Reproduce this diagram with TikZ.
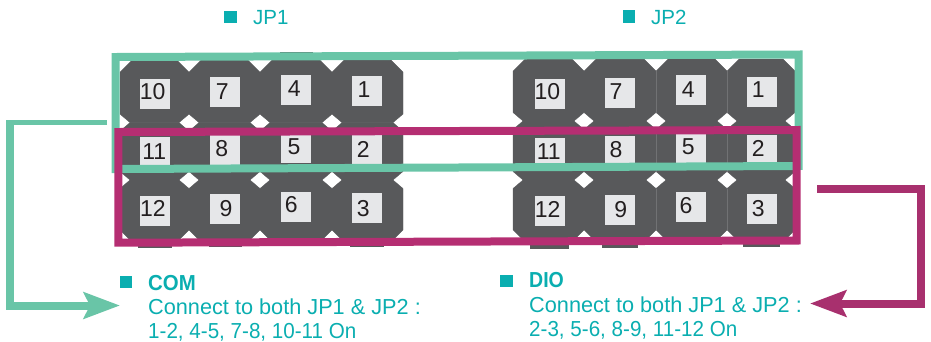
\documentclass[tikz,border=0pt]{standalone}
\usepackage{fontspec}
\usepackage{graphicx}
\setmainfont{Liberation Sans}
\usetikzlibrary{arrows.meta}
\definecolor{pindark}{HTML}{58595B}
\definecolor{pinlight}{HTML}{E6E7E9}
\definecolor{pintext}{HTML}{231F20}
\definecolor{grn}{HTML}{69C5A7}
\definecolor{mag}{HTML}{B52E72}
\definecolor{magdark}{HTML}{A8306E}
\definecolor{tealtxt}{HTML}{0AAEB0}
\tikzset{
  pinlabel/.style={fill=pinlight,minimum size=30pt,inner sep=0pt},
  pindigit/.style={inner sep=0pt,text=pintext,font=\fontsize{23}{23}\selectfont},
  bullet/.style={fill=tealtxt,minimum size=12.5pt,inner sep=0pt},
  caption/.style={text=tealtxt,anchor=base west,inner sep=0pt,font=\fontsize{21.7}{24}\selectfont},
  jplabel/.style={text=tealtxt,anchor=base west,inner sep=0pt,font=\fontsize{20.5}{24}\selectfont},
  frame/.style={line width=8pt,miter limit=10},
  elbow/.style={line width=8pt,-{Stealth[length=36pt,width=26pt,inset=6pt]}},
  pinbody/.style={fill=pindark,draw=pindark,line width=.3pt}
}
% x1 y1 x2 y2, then top chamfer (x,y) and bottom chamfer (x,y)
\newcommand{\octa}[8]{%
  \path[pinbody] (#1+#5,#2) -- (#3-#5,#2) -- (#3,#2+#6) -- (#3,#4-#8) -- (#3-#7,#4) -- (#1+#7,#4) -- (#1,#4-#8) -- (#1,#2+#6) -- cycle;}
\begin{document}
\begin{tikzpicture}[x=1pt,y=-1pt]
\useasboundingbox (0,0) rectangle (931,341);
% tabs
\fill[pindark] (280,52) rectangle (313,62);
\fill[pindark] (138,238) rectangle (172,248);
\fill[pindark] (209,238) rectangle (242,247);
\fill[pindark] (350,238) rectangle (384,246.5);
\fill[pindark] (530,238) rectangle (569,249);
\fill[pindark] (602,238) rectangle (638,248);
\fill[pindark] (674,238) rectangle (708,245);
\fill[pindark] (743,238) rectangle (780,247);
% left header body
\foreach \a/\b in {120/189,189/260,260/332,332/403}{
  \octa{\a}{60}{\b}{122.6}{12}{12}{10}{8.5}
  \octa{\a}{122.6}{\b}{180}{10}{8.5}{10}{8.5}
  \octa{\a}{180}{\b}{242}{10}{8.5}{12}{12}
}
% right header body
\foreach \a/\b in {513/584,584/656,656/727,727/795}{
  \octa{\a}{59}{\b}{121}{12}{12}{10}{8.5}
  \octa{\a}{121}{\b}{180}{10}{8.5}{10}{8.5}
  \octa{\a}{180}{\b}{242}{10}{8.5}{12}{12}
}
\draw[pindark!85!white,line width=.4pt] (656,71) -- (656,112.5) (656,129.5) -- (656,171.5) (656,188.5) -- (656,230)
  (727,71) -- (727,112.5) (727,129.5) -- (727,171.5) (727,188.5) -- (727,230);
% pin labels left
\foreach \n/\x/\y/\dx/\dy in {10/155/94/-2.3/-2.3,7/225/92/-2.7/-0.3,4/296/90/-1.7/-1.7,1/367/91/-3/-1,
  11/155/152/-0.7/-0.7,8/225/150/-3.3/-1.3,5/296/148/-2/-1.3,2/367/149/-3.7/0,
  12/155/211/-2/-2.3,9/225/209/1/0,6/296/207/-4.7/-2,3/367/208/-3.7/0.7}{
  \node[pinlabel] (L\n) at (\x,\y) {};
  \node[pindigit] (Lt\n) at ([shift={(\dx,\dy)}]L\n.center) {\n};
}
% pin labels right
\foreach \n/\x/\y/\dx/\dy in {10/550/94/-2.7/-2,7/620/93/-4/-1,4/691/90/-2.7/0,1/762/92/-3.7/-2,
  11/550/153/-1.3/-1.7,8/620/151/-4/-1.7,5/691/149/-2.7/-2.3,2/762/150/-3.7/-1.3,
  12/550/211/-2.3/-2,9/620/210/0.7/0,6/691/207/-5/-1,3/762/209/-3.7/0}{
  \node[pinlabel] (R\n) at (\x,\y) {};
  \node[pindigit] (Rt\n) at ([shift={(\dx,\dy)}]R\n.center) {\n};
}
% frames
\draw[frame,grn] (115.5,57) -- (798.7,54.5) -- (798.7,166) -- (115.5,169) -- cycle;
\draw[frame,mag] (118.3,132) -- (796.7,130) -- (796.7,240.5) -- (118.3,242.7) -- cycle;
% top labels
\node[bullet] (b1) at (230.3,17) {};
\node[jplabel] (jp1) at (253,24) {JP1};
\node[bullet] (b2) at (629,16.4) {};
\node[jplabel] (jp2) at (651,24) {JP2};
% captions
\node[bullet] (b3) at (126,282) {};
\node[caption] (comh) at (148,290) {\scalebox{.94}[1]{\bfseries COM}};
\node[caption] (com1) at (148,314) {Connect to both JP1 \& JP2 :};
\node[caption] (com2) at (148,338) {\scalebox{.95}[1]{1-2, 4-5, 7-8, 10-11 On}};
\node[bullet] (b4) at (506.5,281) {};
\node[caption] (dioh) at (529,287.5) {\scalebox{.9}[1]{\bfseries DIO}};
\node[caption] (dio1) at (529,312) {Connect to both JP1 \& JP2 :};
\node[caption] (dio2) at (529,336) {\scalebox{.95}[1]{2-3, 5-6, 8-9, 11-12 On}};
% elbow connectors
\coordinate (gs) at (107,122.7);
\coordinate (gc1) at (6,122.7);
\coordinate (gc1b) at (10,120);
\coordinate (gc2) at (10,305.5);
\coordinate (ge) at (120,305.5);
\draw[grn,line width=5.4pt] (gs) -- (gc1);
\draw[elbow,grn] (gc1b) -- (gc2) -- (ge);
\coordinate (ms) at (817,189.3);
\coordinate (mc1) at (921,189.3);
\coordinate (mc2) at (921,303.5);
\coordinate (me) at (810,303.5);
\draw[elbow,magdark] (ms) -- (mc1) -- (mc2) -- (me);
\end{tikzpicture}
\end{document}
